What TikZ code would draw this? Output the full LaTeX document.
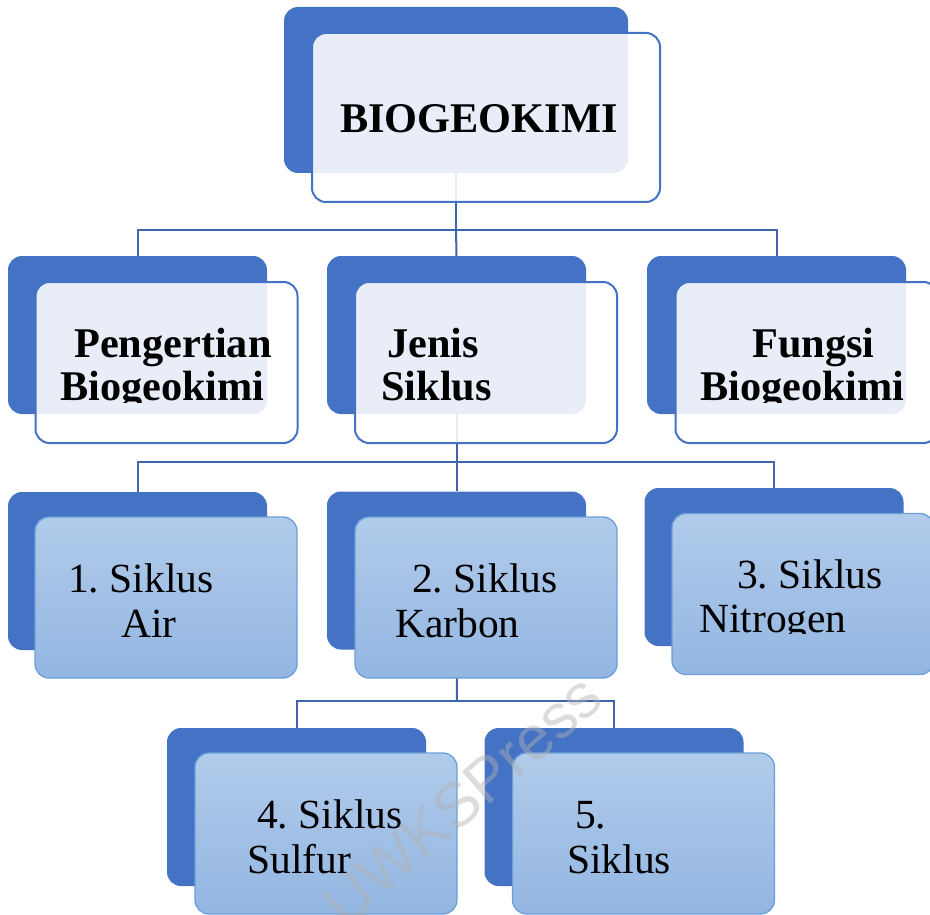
\documentclass[tikz,border=0pt]{standalone}
\usepackage{fontspec}
\setmainfont{Liberation Serif}
\newfontfamily\wmfont{Liberation Sans}
\frenchspacing
\usetikzlibrary{positioning}
\definecolor{dkblue}{HTML}{4472C4}
\definecolor{lnblue}{HTML}{3D65B0}
\definecolor{ltop}{HTML}{B1CBEA}
\definecolor{lbot}{HTML}{93B6E2}
\definecolor{lborder}{HTML}{6B9FD9}
\begin{document}
\begin{tikzpicture}[x=1pt,y=-1pt,
  backbox/.style={rectangle, rounded corners=14pt, fill=dkblue, draw=none, minimum width=259pt, minimum height=158pt, inner sep=0pt},
  topback/.style={backbox, minimum width=344pt, minimum height=166pt},
  frontA/.style={rectangle, rounded corners=14pt, fill=white, fill opacity=0.88, draw=dkblue, line width=2pt, minimum width=262pt, minimum height=161pt, inner sep=0pt},
  topfront/.style={frontA, minimum width=348pt, minimum height=169pt},
  frontB/.style={rectangle, rounded corners=14pt, top color=ltop, bottom color=lbot, draw=lborder, line width=1.3pt, minimum width=262pt, minimum height=161pt, inner sep=0pt},
  conn/.style={draw=lnblue, line width=2pt},
  bt/.style={anchor=base west, inner sep=0pt, font=\fontsize{42.3}{44}\selectfont\bfseries},
  rt/.style={anchor=base west, inner sep=0pt, font=\fontsize{41.5}{44}\selectfont},
]
\useasboundingbox (0,0) rectangle (930,915);
\clip (0,0) rectangle (930,915);

% back boxes
\node[topback] (tb) at (456,90) {};
\node[backbox] (b21) at (137.5,335) {};
\node[backbox] (b22) at (456.5,335) {};
\node[backbox] (b23) at (776.5,335) {};
\node[backbox] (b31) at (137.5,571) {};
\node[backbox] (b32) at (456.5,570.5) {};
\node[backbox] (b33) at (774,567) {};
\node[backbox] (b41) at (296.5,807) {};
\node[backbox] (b42) at (614,807) {};

% connectors
\coordinate (h1) at (456,230);
\coordinate (h2) at (456.5,462);
\coordinate (h3) at (457,701);
\draw[conn] (tb.south) -- (h1);
\draw[conn] (h1) -| (b21.north);
\draw[conn] (h1) -| (b23.north);
\draw[conn] (h1) -- (b22.north);
\draw[conn] (b22.south) -- (h2);
\draw[conn] (h2) -| (b31.north);
\draw[conn] (h2) -| (b33.north);
\draw[conn] (h2) -- (b32.north);
\draw[conn] (b32.south) -- (h3);
\draw[conn] (h3) -| (b41.north);
\draw[conn] (h3) -| (b42.north);

% front boxes
\node[topfront] (tf) at (486,117.5) {};
\node[frontA] (f21) at (166.5,362.5) {};
\node[frontA] (f22) at (486,362.5) {};
\node[frontA] (f23) at (806.5,362.5) {};
\node[frontB] (f31) at (166,597.5) {};
\node[frontB] (f32) at (486,597.5) {};
\node[frontB] (f33) at (803,594) {};
\node[frontB] (f41) at (326,833.5) {};
\node[frontB] (f42) at (643.5,833.5) {};

% texts
\node[bt] (t0) at (340,133) {BIOGEOKIMI};
\begin{scope}
  \clip (0,240) rectangle (930,402.5);
  \node[bt] (t21a) at (74,357) {Pengertian};
  \node[bt] (t21b) at (60,400) {Biogeokimi};
  \node[bt] (t22a) at (387,357) {Jenis};
  \node[bt] (t22b) at (381,400) {Siklus};
  \node[bt] (t23a) at (752,357) {Fungsi};
  \node[bt] (t23b) at (700,400) {Biogeokimi};
\end{scope}
\node[rt] (t31a) at (68,592) {1. Siklus};
\node[rt] (t31b) at (121,637) {Air};
\node[rt] (t32a) at (412,592) {2. Siklus};
\node[rt] (t32b) at (395,637) {Karbon};
\begin{scope}
  \clip (640,480) rectangle (930,633.5);
  \node[rt] (t33a) at (737,588) {3. Siklus};
  \node[rt] (t33b) at (699,632) {Nitrogen};
\end{scope}
\node[rt] (t41a) at (257,828) {4. Siklus};
\node[rt] (t41b) at (247,873) {Sulfur};
\node[rt] (t42a) at (575,828) {5.};
\node[rt] (t42b) at (567,873) {Siklus};

% watermark
\node[rotate=41, text=gray!60, text opacity=0.45, font=\fontsize{62}{62}\wmfont, inner sep=0pt] (wm) at (462,800) {UWKSPress};
\end{tikzpicture}
\end{document}
